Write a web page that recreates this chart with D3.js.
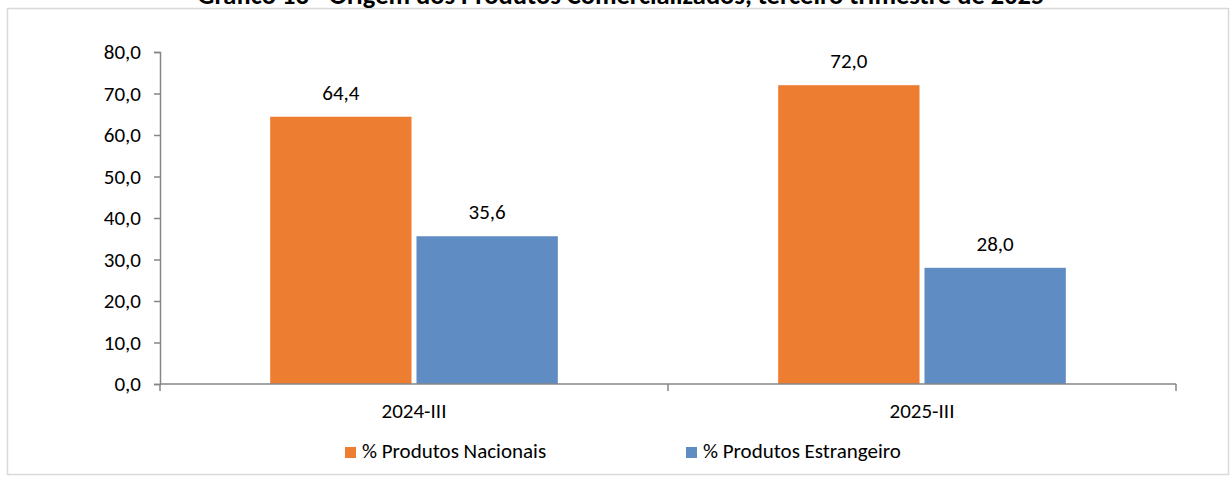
<!DOCTYPE html>
<html><head><meta charset="utf-8">
<script src="https://cdn.jsdelivr.net/npm/d3@7"></script>
<style>
html,body{margin:0;padding:0;background:#fff;}
svg{display:block;}
text{font-family:Carlito, Calibri, Lato, "Open Sans", sans-serif;fill:#000;}
</style></head>
<body><svg id="c" width="1231" height="477"></svg>
<script>
const title = "Gráfico 13 - Origem dos Produtos Comercializados, terceiro trimestre de 2025";
const categories = ["2024-III", "2025-III"];
const seriesNames = ["% Produtos Nacionais", "% Produtos Estrangeiro"];
const nacionais = [64.4, 72.0];
const estrangeiro = [35.6, 28.0];
const yTicks = [0, 10, 20, 30, 40, 50, 60, 70, 80];
const colors = ["#ED7D31", "#5F8CC3"];

const FS = 21;
const svg = d3.select("#c");
const fmt = v => d3.format(".1f")(v).replace(".", ",");

// outer frame
svg.append("rect").attr("x", 7.5).attr("y", 8.5).attr("width", 1221).attr("height", 466)
  .attr("fill", "#fff").attr("stroke", "#D9D9D9").attr("stroke-width", 1.5);

// title (partially cut at top, as in the reference)
svg.append("text").attr("x", 621).attr("y", 4).attr("text-anchor", "middle")
  .attr("font-weight", "bold").attr("font-size", 26.5).text(title);

const plot = {left: 160, right: 1176, top: 52, bottom: 384};
const x0 = d3.scaleBand().domain(categories).range([plot.left, plot.right]).paddingInner(0).paddingOuter(0);
const x1 = d3.scaleBand().domain(seriesNames).range([0, x0.bandwidth()]).paddingInner(0.034).paddingOuter(0.753);
const y = d3.scaleLinear().domain([0, 80]).range([plot.bottom, plot.top]);

const data = categories.map((c, i) => ({cat: c, vals: [
  {name: seriesNames[0], v: nacionais[i], col: colors[0]},
  {name: seriesNames[1], v: estrangeiro[i], col: colors[1]}]}));

const g = svg.append("g");
const groups = g.selectAll("g.cat").data(data).join("g").attr("transform", d => `translate(${x0(d.cat)},0)`);
groups.selectAll("rect").data(d => d.vals).join("rect")
  .attr("x", d => x1(d.name)).attr("width", x1.bandwidth())
  .attr("y", d => y(d.v)).attr("height", d => y(0) - y(d.v)).attr("fill", d => d.col);
groups.selectAll("text").data(d => d.vals).join("text")
  .attr("x", d => x1(d.name) + x1.bandwidth() / 2).attr("y", d => y(d.v) - 17)
  .attr("text-anchor", "middle").attr("font-size", FS).text(d => fmt(d.v));

// y axis
const yAxis = d3.axisLeft(y).tickValues(yTicks).tickFormat(fmt).tickSize(6).tickPadding(13);
const ya = svg.append("g").attr("transform", `translate(${plot.left},0)`).call(yAxis);
ya.select(".domain").attr("stroke", "#868686").attr("stroke-width", 1.5);
ya.selectAll(".tick line").attr("stroke", "#868686").attr("stroke-width", 1.5);
ya.selectAll(".tick text").attr("font-size", FS).attr("fill", "#000")
  .style("font-family", "Carlito, Calibri, Lato, 'Open Sans', sans-serif");

// x axis
const xa = svg.append("g").attr("transform", `translate(0,${plot.bottom})`);
xa.append("line").attr("x1", plot.left).attr("x2", plot.right).attr("stroke", "#868686").attr("stroke-width", 1.5);
const bounds = [plot.left, ...categories.map(c => x0(c) + x0.bandwidth())];
xa.selectAll("line.tk").data(bounds).join("line").attr("class", "tk")
  .attr("x1", d => d).attr("x2", d => d).attr("y1", 0).attr("y2", 7)
  .attr("stroke", "#868686").attr("stroke-width", 1.5);
xa.selectAll("text").data(categories).join("text")
  .attr("x", d => x0(d) + x0.bandwidth() / 2).attr("y", 34).attr("text-anchor", "middle")
  .attr("font-size", FS).text(d => d);

// legend
const legX = [345, 686];
const leg = svg.selectAll("g.leg").data(seriesNames).join("g").attr("class", "leg")
  .attr("transform", (d, i) => `translate(${legX[i]},447)`);
leg.append("rect").attr("width", 11).attr("height", 11).attr("fill", (d, i) => colors[i]);
leg.append("text").attr("x", 17).attr("y", 11).attr("font-size", FS).text(d => d);
</script></body></html>
